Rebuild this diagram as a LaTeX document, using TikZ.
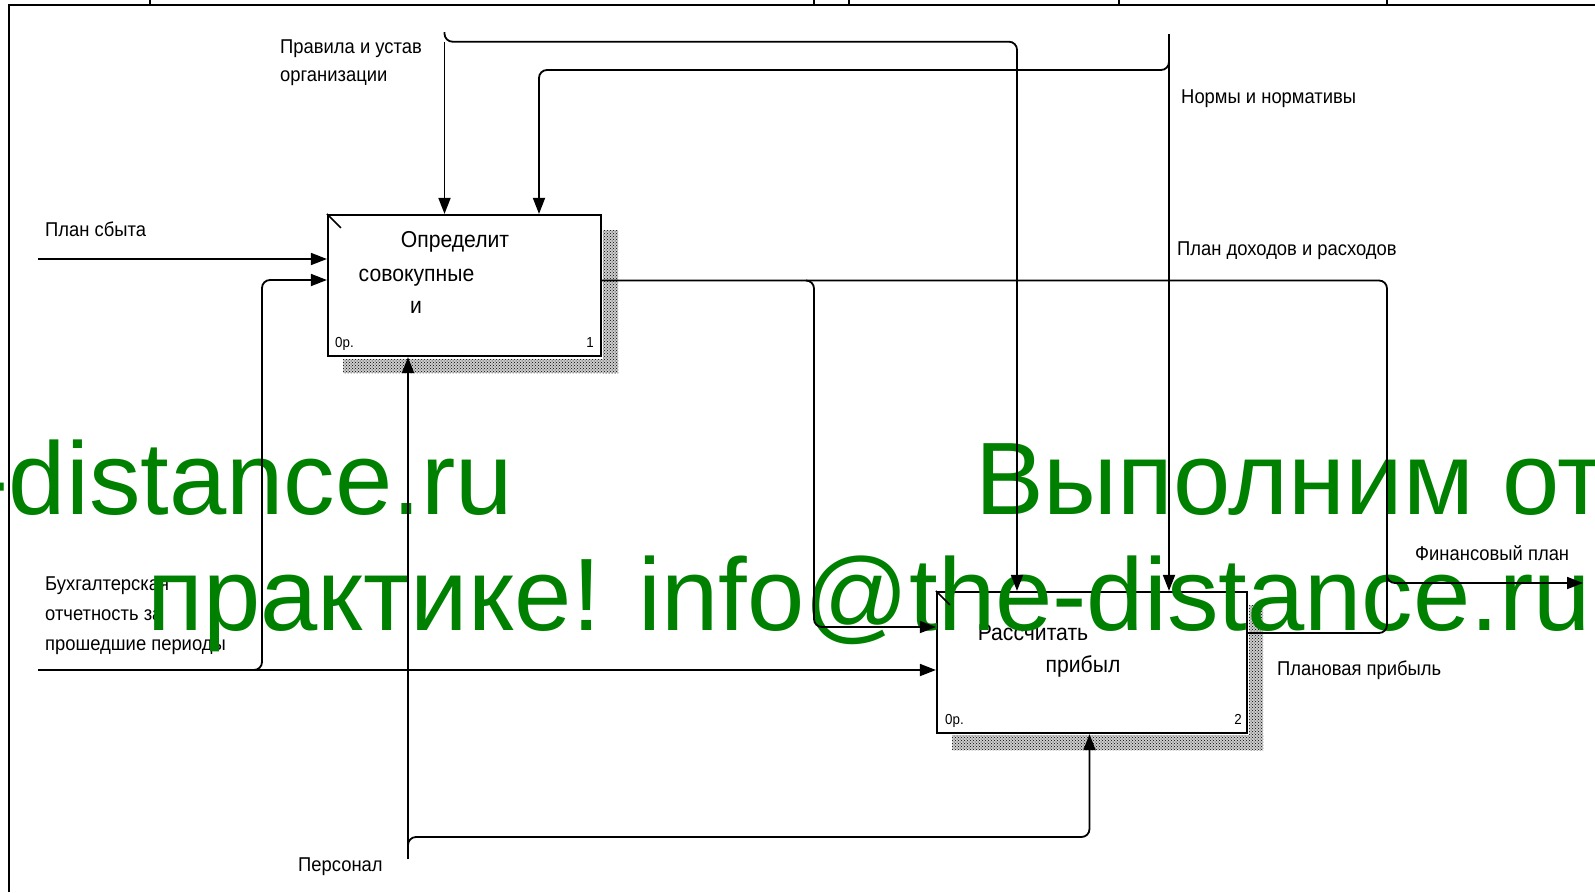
\documentclass[tikz,border=0pt]{standalone}
\usepackage{fontspec}
\setmainfont{Liberation Sans}[FakeStretch=0.92]
\newfontfamily\wmfont{Liberation Sans}
\usetikzlibrary{arrows.meta,patterns}
\definecolor{wmgreen}{RGB}{0,128,0}

\tikzset{
  fnbox/.style={draw, line width=2.2pt, fill=white, minimum width=#1, minimum height=141pt, inner sep=0pt},
  link/.style={line width=1.8pt, rounded corners=8pt},
  arr/.style={link, -{Triangle[length=16pt,width=12pt]}},
  frame/.style={line width=2pt},
  lbl/.style={anchor=base west, inner sep=0pt, font=\fontsize{20}{24}\selectfont},
  boxtxt/.style={anchor=base, inner sep=0pt, font=\fontsize{23}{28}\selectfont},
  boxnum/.style={anchor=base, inner sep=0pt, font=\fontsize{14.5}{16}\selectfont},
  shade/.style={fill=gray!40, postaction={pattern=crosshatch dots, pattern color=black}},
  wm/.style={anchor=base west, inner sep=0pt, text=wmgreen, font=\wmfont\fontsize{103}{110}\selectfont}
}

\begin{document}
\begin{tikzpicture}[x=1pt, y=-1pt]
  \useasboundingbox (0,0) rectangle (1595,892);

  % shadows
  \path[shade] (603,230) rectangle (618,373);
  \path[shade] (343,359) rectangle (618,373);
  \path[shade] (1249,605) rectangle (1263,750);
  \path[shade] (952,735) rectangle (1263,750);

  % function boxes
  \node[fnbox=273pt] (b1) at (464.5,285.5) {};
  \node[fnbox=310pt] (b2) at (1092,662.5) {};

  \node[boxtxt] (t1a) at (455,247) {Определит};
  \node[boxtxt] (t1b) at (416.5,281) {совокупные};
  \node[boxtxt] (t1c) at (416,313) {и};
  \node[boxnum, anchor=base west] (n1a) at (335,347.7) {0р.};
  \node[boxnum, anchor=base east] (n1b) at (594,347.7) {1};

  \node[boxtxt] (t2a) at (1033,640) {Рассчитать};
  \node[boxtxt] (t2b) at (1083,672) {прибыл};
  \node[boxnum, anchor=base west] (n2a) at (945,724) {0р.};
  \node[boxnum, anchor=base east] (n2b) at (1242,724) {2};

  % arrow labels
  \node[lbl] (l-sbyt) at (45,236) {План сбыта};
  \node[lbl] (l-prav1) at (280,53.3) {Правила и устав};
  \node[lbl] (l-prav2) at (280,81.7) {организации};
  \node[lbl] (l-norm) at (1181,103) {Нормы и нормативы};
  \node[lbl] (l-dohod) at (1177,255) {План доходов и расходов};
  \node[lbl] (l-fin) at (1415,560.7) {Финансовый план};
  \node[lbl] (l-prib) at (1277,675) {Плановая прибыль};
  \node[lbl] (l-buh1) at (45,590.7) {Бухгалтерская};
  \node[lbl] (l-buh2) at (45,620) {отчетность за};
  \node[lbl] (l-buh3) at (45,650) {прошедшие периоды};
  \node[lbl] (l-pers) at (298,871) {Персонал};

  % watermark
  \begin{scope}
    \clip (0,0) rectangle (1595,892);
    \node[wm, anchor=base east] (wm1) at (513,514) {the-distance.ru};
    \node[wm] (wm2) at (975,514) {Выполним отчет по};
    \node[wm] (wm3) at (147,630.7) {практике! info@the-distance.ru};
  \end{scope}

  % frame
  \draw[frame] (9,892) -- (9,5) -- (1595,5);
  \foreach \x in {150,814,849,1119,1387}
    \draw[frame] (\x,0) -- (\x,5);

  % corner ticks
  \draw[line width=1.6pt] (b1.north west) -- ++(14,14);
  \draw[line width=1.6pt] (b2.north west) -- ++(14,14);

  % free ends and bends
  \coordinate (sbyt) at (38,259);
  \coordinate (buh) at (38,670);
  \coordinate (buhup) at (262,280);
  \coordinate (prav) at (444.5,32);
  \coordinate (pravr) at (1017,41.7);
  \coordinate (norm) at (1169,34);
  \coordinate (norml) at (539,70);
  \coordinate (pers) at (408,859);
  \coordinate (persr) at (1089.5,837);
  \coordinate (o1) at ([yshift=5pt]b1.east);
  \coordinate (o2) at ([yshift=29.5pt]b2.east);
  \coordinate (br) at (814,627);
  \coordinate (outc) at (1387,583);
  \coordinate (fin) at (1583,583);

  % inputs
  \draw[arr] (sbyt) -- (sbyt -| b1.west);
  \draw[arr] (buh) -- (buh -| b2.west);
  \draw[arr] ([xshift=-8pt]buh -| buhup) -- (buh -| buhup) -- (buhup) -- (buhup -| b1.west);

  % controls
  \draw[arr] ([yshift=-10pt]prav) -- (prav |- b1.north);
  \draw[arr] (prav) |- (pravr) -- (pravr |- b2.north);
  \draw[arr] (norm) -- (norm |- b2.north);
  \draw[arr] ([yshift=8pt]norm |- norml) -- (norm |- norml) -- (norml) -- (norml |- b1.north);

  % mechanism
  \draw[arr] (pers) -- (pers |- b1.south);
  \draw[arr] ([yshift=-8pt]pers |- persr) -- (pers |- persr) -- (persr) -- (persr |- b2.south);

  % outputs
  \draw[arr] (o1) -- (o1 -| outc) -- (outc) -- (fin);
  \draw[arr] ([xshift=-8pt]o1 -| br) -- (o1 -| br) -- (br) -- (br -| b2.west);
  \draw[link] (o2) -- (o2 -| outc) -- ([yshift=8pt]outc);
\end{tikzpicture}
\end{document}
